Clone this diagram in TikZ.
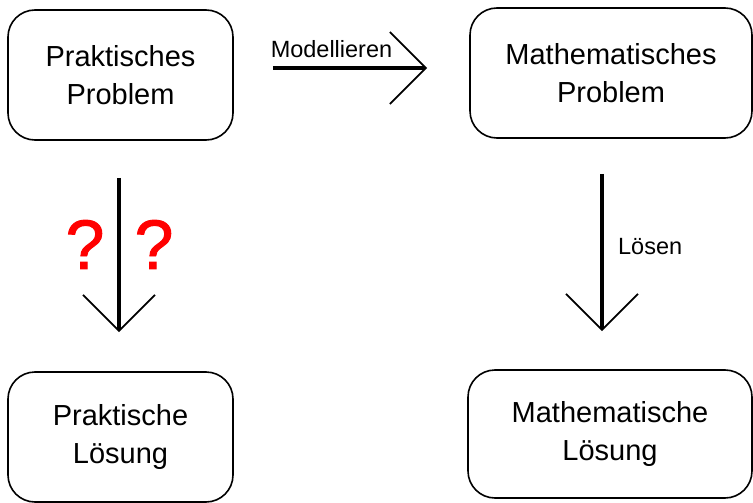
\documentclass[tikz,border=0pt]{standalone}
\usepackage{fontspec}
\setmainfont{Liberation Sans}
\newfontfamily\fragefont[FakeBold=1.3]{Liberation Sans}
\usetikzlibrary{arrows.meta,positioning}
\tikzset{
  kasten/.style = {draw, line width=1.6pt, rounded corners=27pt, align=center,
                   inner sep=0pt, font=\fontsize{29}{38}\selectfont},
  pfeil/.style = {line width=3.6pt,
                  -{Straight Barb[length=36pt,width=72pt,line width=1.8pt]}},
  beschr/.style = {font=\fontsize{23.5}{27}\selectfont},
}

\begin{document}
\begin{tikzpicture}[x=1pt,y=-1pt]
  \useasboundingbox (0,0) rectangle (753,503);

  % die vier Kaesten
  \node[kasten, minimum width=225pt, minimum height=130pt] (pp) at (120.5,75) {Praktisches\\Problem};
  \node[kasten, minimum width=282pt, minimum height=130pt] (mp) at (611,73) {Mathematisches\\Problem};
  \node[kasten, minimum width=225pt, minimum height=130pt] (pl) at (120.5,437) {Praktische\\L\"osung};
  \node[kasten, minimum width=284pt, minimum height=128pt] (ml) at (610,434) {Mathematische\\L\"osung};

  % Modellieren
  \draw[pfeil, line width=4pt, shorten <=39pt, shorten >=42pt]
    ([yshift=7pt]pp.east) -- ([yshift=7pt]pp.east -| mp.west)
    node[beschr, pos=0.415, anchor=base, yshift=10pt] {Modellieren};

  % Loesen
  \draw[pfeil, shorten <=35pt, shorten >=38pt]
    ([xshift=-9pt]mp.south) -- ([xshift=-9pt]mp.south |- ml.north)
    node[beschr, midway, anchor=base west, xshift=11pt] {L\"osen};

  % der unbekannte Weg
  \draw[pfeil, shorten <=37pt, shorten >=39pt]
    ([xshift=-1.5pt]pp.south) -- ([xshift=-1.5pt]pl.north)
    \foreach \s in {-34,35}{
      node[pos=0.45, xshift=\s pt, text=red, font=\fontsize{70}{80}\fragefont] {?}
    };
\end{tikzpicture}
\end{document}
